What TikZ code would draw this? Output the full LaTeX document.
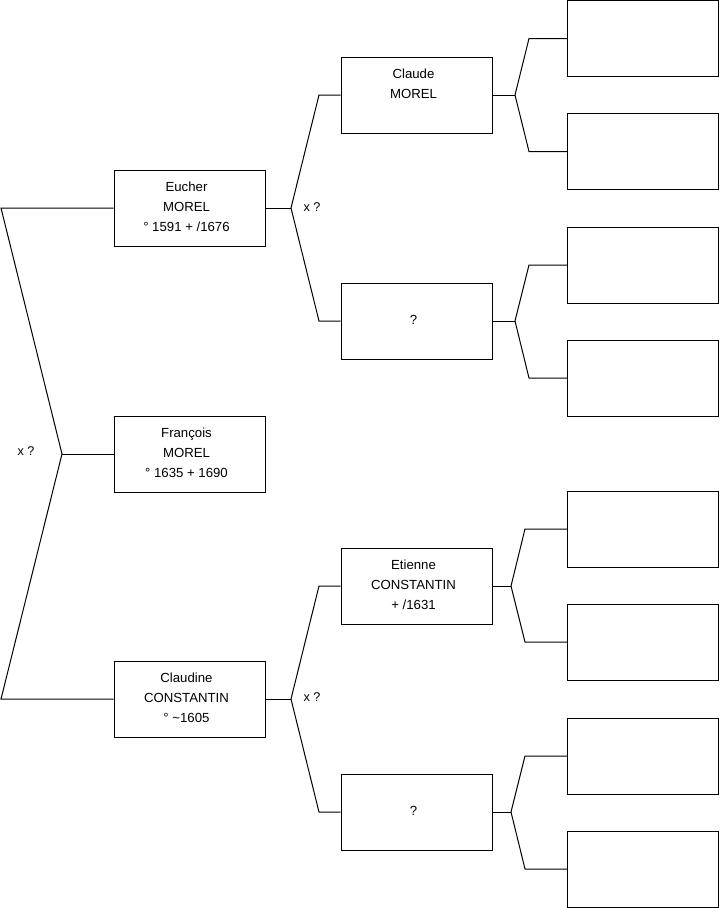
\documentclass[tikz,border=0pt]{standalone}
\usepackage{fontspec}
\setmainfont{Liberation Sans}
\begin{document}
\begin{tikzpicture}[x=0.75pt,y=-0.75pt,
  person/.style={draw=black,line width=0.75pt,rectangle,minimum width=113.25pt,minimum height=57pt,inner sep=0pt},
  ptext/.style={align=center,inner sep=0pt,xshift=-2.25pt,yshift=0.75pt,font=\fontsize{9.9pt}{15pt}\selectfont},
  link/.style={draw=black,line width=0.75pt},
  lbl/.style={font=\fontsize{9.5pt}{11pt}\selectfont,inner sep=0pt}]
\useasboundingbox (0,0) rectangle (719,908);
% generation 1
\node[person,label={[ptext]center:{Eucher\\MOREL\\° 1591 + /1676}}] (eucher) at (189.5,208) {};
\node[person,label={[ptext]center:{François\\MOREL\\° 1635 + 1690}}] (francois) at (189.5,454) {};
\node[person,label={[ptext]center:{Claudine\\CONSTANTIN\\° \textasciitilde1605}}] (claudine) at (189.5,699) {};
% generation 2
\node[person,label={[ptext]center:{Claude\\MOREL\\\mbox{}}}] (claude) at (416.5,95) {};
\node[person,label={[ptext]center:{?}}] (q1) at (416.5,321) {};
\node[person,label={[ptext]center:{Etienne\\CONSTANTIN\\+ /1631}}] (etienne) at (416.5,586) {};
\node[person,label={[ptext]center:{?}}] (q2) at (416.5,812) {};
% generation 3
\node[person] (r1) at (643,38.5) {};
\node[person] (r2) at (643,151.5) {};
\node[person] (r3) at (643,265) {};
\node[person] (r4) at (643,378) {};
\node[person] (r5) at (643,529) {};
\node[person] (r6) at (643,642) {};
\node[person] (r7) at (643,756) {};
\node[person] (r8) at (643,869) {};
% left connectors
\coordinate (la) at (1,208);
\coordinate (lj) at (62,454);
\coordinate (lb) at (1,699);
\draw[link] (eucher.west) -- (la) -- (lj) -- (lb) -- (claudine.west);
\draw[link] (lj) -- (francois.west);
\node[lbl] (x1) at (26,451) {x ?};
% Eucher parents
\coordinate (ej) at (291,208);
\draw[link] (eucher.east) -- (ej);
\draw[link] (ej) -- (319,95) -- (claude.west);
\draw[link] (ej) -- (319,321) -- (q1.west);
\node[lbl] (x2) at (312,207) {x ?};
% Claudine parents
\coordinate (cj) at (291,699);
\draw[link] (claudine.east) -- (cj);
\draw[link] (cj) -- (319,586) -- (etienne.west);
\draw[link] (cj) -- (319,812) -- (q2.west);
\node[lbl] (x3) at (312,697) {x ?};
% generation 3 connectors
\coordinate (j1) at (515,95);
\draw[link] (claude.east) -- (j1);
\draw[link] (j1) -- (529,38.5) -- (r1.west);
\draw[link] (j1) -- (529,151.5) -- (r2.west);
\coordinate (j2) at (515,321);
\draw[link] (q1.east) -- (j2);
\draw[link] (j2) -- (529,265) -- (r3.west);
\draw[link] (j2) -- (529,378) -- (r4.west);
\coordinate (j3) at (511,586);
\draw[link] (etienne.east) -- (j3);
\draw[link] (j3) -- (525,529) -- (r5.west);
\draw[link] (j3) -- (525,642) -- (r6.west);
\coordinate (j4) at (511,812);
\draw[link] (q2.east) -- (j4);
\draw[link] (j4) -- (525,756) -- (r7.west);
\draw[link] (j4) -- (525,869) -- (r8.west);
\end{tikzpicture}
\end{document}
